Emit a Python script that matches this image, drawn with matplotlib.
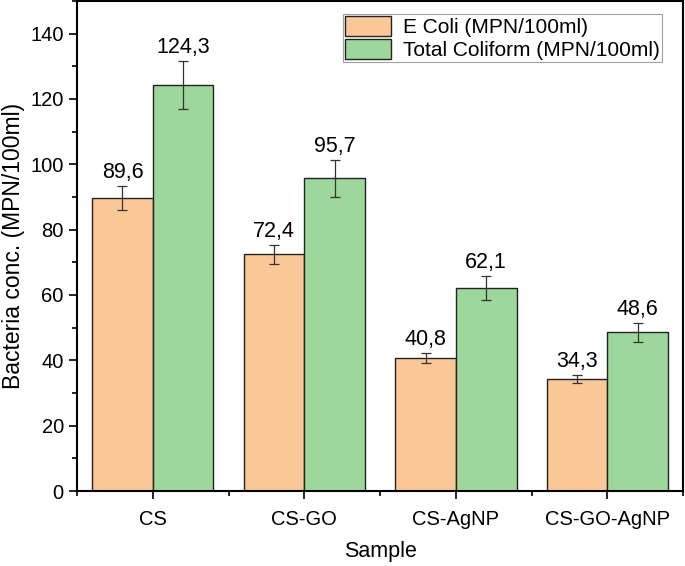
import matplotlib
matplotlib.use("Agg")
import matplotlib.pyplot as plt
import numpy as np
from matplotlib.ticker import MultipleLocator, FixedLocator

plt.rcParams['font.family'] = ['Liberation Sans', 'DejaVu Sans']

categories = ["CS", "CS-GO", "CS-AgNP", "CS-GO-AgNP"]
ecoli = [89.6, 72.4, 40.8, 34.3]
ecoli_err = [3.7, 2.9, 1.5, 1.35]
coliform = [124.3, 95.7, 62.1, 48.6]
coliform_err = [7.4, 5.7, 3.8, 2.9]
ecoli_labels = ["89,6", "72,4", "40,8", "34,3"]
coliform_labels = ["124,3", "95,7", "62,1", "48,6"]

fig = plt.figure(figsize=(6.85, 5.66), dpi=100)
ax = fig.add_axes([0.1124, 0.1325, 0.885, 0.866])

x = np.arange(len(categories))
w = 0.4
c1 = "#FAC896"
c2 = "#9ED79B"
ax.bar(x - w/2, ecoli, w, color=c1, edgecolor="#222222", linewidth=1.0,
       label="E Coli (MPN/100ml)")
ax.bar(x + w/2, coliform, w, color=c2, edgecolor="#222222", linewidth=1.0,
       label="Total Coliform (MPN/100ml)")
ax.errorbar(x - w/2, ecoli, yerr=ecoli_err, fmt="none", ecolor="#333333",
            elinewidth=0.9, capsize=3.6, capthick=0.9)
ax.errorbar(x + w/2, coliform, yerr=coliform_err, fmt="none", ecolor="#333333",
            elinewidth=0.9, capsize=3.6, capthick=0.9)

for xi, v, e, t in zip(x - w/2, ecoli, ecoli_err, ecoli_labels):
    ax.annotate(t, (xi, v + e), xytext=(0, 2), textcoords="offset points",
                ha="center", va="bottom", fontsize=15.5)
for xi, v, e, t in zip(x + w/2, coliform, coliform_err, coliform_labels):
    ax.annotate(t, (xi, v + e), xytext=(0, 2), textcoords="offset points",
                ha="center", va="bottom", fontsize=15.5)

ax.set_xlim(-0.5, 3.5)
ax.set_ylim(0, 150)
ax.set_xticks(x)
ax.set_xticklabels(categories)
ax.xaxis.set_minor_locator(FixedLocator(np.arange(-0.5, 4.0, 1.0)))
ax.yaxis.set_major_locator(FixedLocator(np.arange(0, 141, 20)))
ax.yaxis.set_minor_locator(MultipleLocator(10))
ax.tick_params(axis="both", which="major", direction="out", length=6, width=1.2,
               labelsize=14.5)
ax.tick_params(axis="x", which="major", pad=8)
ax.tick_params(axis="both", which="minor", direction="out", length=3.5, width=1.2)
for s in ax.spines.values():
    s.set_linewidth(1.5)

ax.set_xlabel("Sample", fontsize=15.5, labelpad=8)
ax.set_ylabel("Bacteria conc. (MPN/100ml)", fontsize=16.5, labelpad=4)

leg = ax.legend(loc="upper right", bbox_to_anchor=(0.965, 0.9735), fontsize=15,
                frameon=True, fancybox=False, edgecolor="#888888",
                borderpad=0.1, handlelength=2.2, handleheight=1.1,
                handletextpad=0.6, labelspacing=0.1, borderaxespad=0.0)
leg.get_frame().set_linewidth(0.8)
for p in leg.get_patches():
    p.set_edgecolor("#222222")

fig.savefig("out.png", dpi=100)
